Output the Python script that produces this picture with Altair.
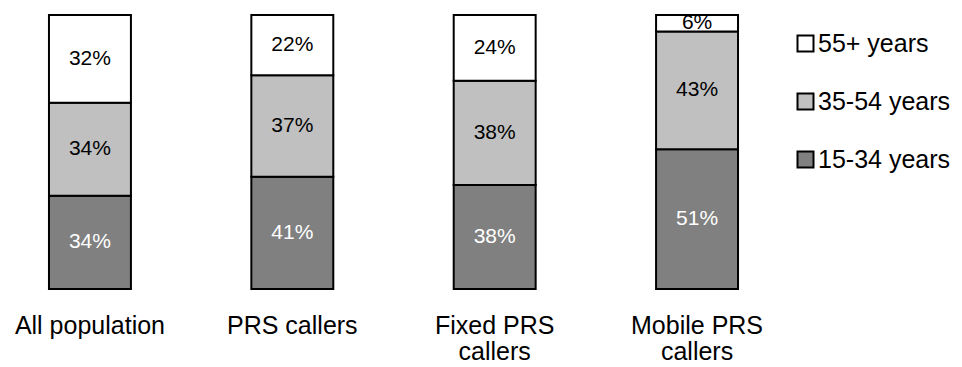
import altair as alt
import pandas as pd

categories = ["All population", "PRS callers", "Fixed PRS callers", "Mobile PRS callers"]
age_groups = ["15-34 years", "35-54 years", "55+ years"]
young = [34, 41, 38, 51]
middle = [34, 37, 38, 43]
old = [32, 22, 24, 6]

rows = []
for i, c in enumerate(categories):
    for j, (g, vals) in enumerate(zip(age_groups, [young, middle, old])):
        rows.append({"category": c, "age": g, "ord": j, "value": vals[i]})
df = pd.DataFrame(rows)

FONT = "Liberation Sans"

base = alt.Chart(df).transform_stack(
    stack="value", groupby=["category"], sort=[alt.SortField("ord")], as_=["y0", "y1"]
).transform_calculate(
    mid="(datum.y0 + datum.y1) / 2",
    lab="datum.value + '%'",
    tcolor="datum.age == '15-34 years' ? 'white' : 'black'",
)

xenc = alt.X(
    "category:N",
    sort=categories,
    scale=alt.Scale(paddingInner=0.595, paddingOuter=0.242),
    axis=alt.Axis(
        title=None, domain=False, ticks=False, labelAngle=0,
        labelFontSize=25, labelColor="black", labelPadding=24,
        labelLineHeight=26, labelFont=FONT,
        labelExpr="datum.label == 'Fixed PRS callers' ? ['Fixed PRS', 'callers'] : datum.label == 'Mobile PRS callers' ? ['Mobile PRS', 'callers'] : datum.label",
    ),
)

bars = base.mark_bar(stroke="black", strokeWidth=2).encode(
    x=xenc,
    y=alt.Y("y0:Q", scale=alt.Scale(domain=[0, 100], nice=False), axis=None),
    y2="y1:Q",
    color=alt.Color(
        "age:N",
        scale=alt.Scale(domain=["55+ years", "35-54 years", "15-34 years"],
                        range=["white", "#c0c0c0", "#808080"]),
        legend=alt.Legend(
            title=None, orient="none", legendX=793, legendY=16,
            symbolType="square", symbolSize=256, symbolStrokeColor="black",
            symbolStrokeWidth=2, labelFontSize=25, labelFont=FONT,
            labelColor="black", rowPadding=32, labelOffset=0, padding=0,
            labelLimit=300,
        ),
    ),
)

texts = base.mark_text(fontSize=21, font=FONT, baseline="middle", align="center").encode(
    x=alt.X("category:N", sort=categories),
    y=alt.Y("mid:Q"),
    text="lab:N",
    color=alt.Color("tcolor:N", scale=None),
)

chart = alt.layer(bars, texts).properties(
    width=787, height=274,
    padding={"left": 0, "top": 12, "right": 0, "bottom": 0},
).configure(font=FONT).configure_view(stroke=None, strokeWidth=0)

chart.save("out.html", embed_options={"renderer": "svg", "actions": False})
